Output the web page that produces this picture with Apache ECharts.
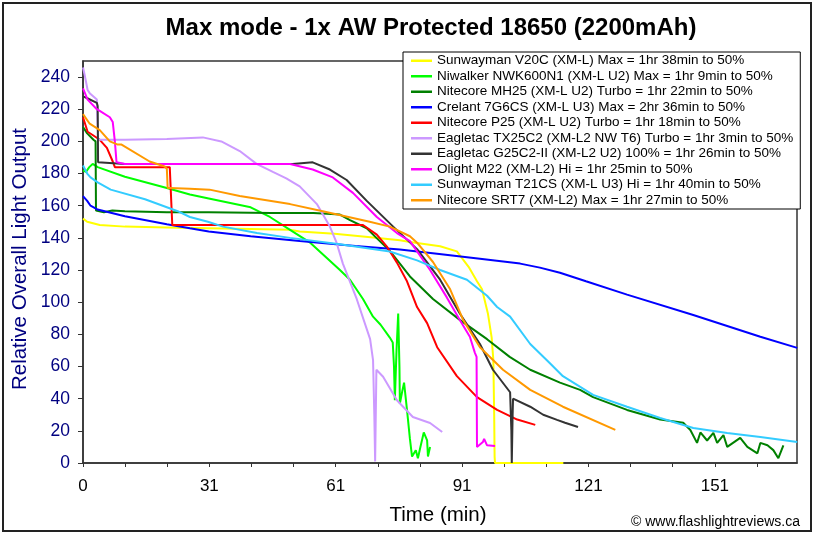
<!DOCTYPE html>
<html><head><meta charset="utf-8">
<script src="https://cdn.jsdelivr.net/npm/echarts@6/dist/echarts.min.js"></script>
<style>html,body{margin:0;padding:0;background:#fff}#c{width:817px;height:535px}</style>
</head><body><div id="c"></div>
<script>
// ---- data (x = minutes, y = relative overall light output) ----
const seriesNames = [
  'Sunwayman V20C (XM-L) Max = 1hr 38min to 50%',
  'Niwalker NWK600N1 (XM-L U2) Max = 1hr 9min to 50%',
  'Nitecore MH25 (XM-L U2) Turbo = 1hr 22min to 50%',
  'Crelant 7G6CS (XM-L U3) Max = 2hr 36min to 50%',
  'Nitecore P25 (XM-L U2) Turbo = 1hr 18min to 50%',
  'Eagletac TX25C2 (XM-L2 NW T6) Turbo = 1hr 3min to 50%',
  'Eagletac G25C2-II (XM-L2 U2) 100% = 1hr 26min to 50%',
  'Olight M22 (XM-L2) Hi = 1hr 25min to 50%',
  'Sunwayman T21CS (XM-L U3) Hi = 1hr 40min to 50%',
  'Nitecore SRT7 (XM-L2) Max = 1hr 27min to 50%'
];
const sunwaymanV20C = [[0,152],[1,150],[4,148],[10,147],[20,146.5],[29.8,146],[40,145.5],[49.3,145],[51.7,144],[60,142.5],[68,140.5],[75.6,138.5],[78,137.5],[85.2,134.8],[89.2,131.6],[92,122],[94,113],[95.2,108],[96.6,93],[97.5,78],[97.9,64],[98.1,30],[98.2,4],[98.3,0],[114.6,0]];
const niwalkerNWK600N1 = [[0,182],[0.7,181],[1.5,184],[2.3,186],[3.5,184],[10,178],[20,171],[25.5,167],[30,164.5],[40,159],[44.6,153],[49.4,145],[54.2,137],[61.3,120],[63.7,114],[66.8,102],[69.2,91],[71,86],[73.2,78],[73.9,75],[74.2,60],[74.4,39],[74.8,70],[75.2,93],[75.5,60],[75.6,37],[76.2,45],[76.6,50],[77.3,33],[78,15],[78.5,4],[79.4,8],[79.9,3],[80.5,10],[81.3,19],[82.1,14],[82.3,4],[82.8,10]];
const nitecoreMH25 = [[0,209],[1,205],[2.5,201],[3,200],[3.1,157],[5,156],[7,157],[10,156.5],[20,156],[30,156],[45,155.5],[55,155.5],[61.3,154.5],[63.7,151],[67.7,146],[70,140],[73.2,132],[78,116],[83.5,102],[89.9,89],[96.4,77],[101.8,66],[106.7,58],[113.8,50],[118.6,45.5],[121.7,41],[129.8,33],[137.7,27],[143.2,25],[144.9,20.5],[146.5,12.5],[147.3,19],[148.9,14],[150.4,18.7],[151.3,12.5],[152.8,17.4],[153.7,10],[156.8,15.6],[158.5,10],[160.9,6],[161.6,12.5],[163.3,11],[164.7,8],[165.9,3],[167.1,11]];
const crelant7G6CS = [[0,166],[1,163],[1.8,160],[3.5,157.6],[10,153.5],[20,148.5],[25.5,146],[30,144],[40,141],[51.7,138],[65,135],[75.6,132.7],[85,130],[94.7,127],[104.3,124],[109,121.5],[113.8,118.3],[120,113],[129.8,104.7],[145.6,92],[161.6,78.5],[170.4,71.6]];
const nitecoreP25 = [[0,215],[1.1,206],[2.3,204],[4,201],[5.7,196],[7.1,187.5],[7.6,184],[10,184],[20.7,184],[21.1,184],[21.3,148],[30,148],[45,148],[60,148],[66.8,148],[70.1,142],[72.5,134.6],[74.9,124.6],[77.3,113],[79.7,97],[82.1,87],[84.5,72],[89.2,54],[94,41],[98.8,33],[103.6,27],[107.9,23.7]];
const eagletacTX25C2 = [[0,246],[0.5,240],[1.1,232],[1.6,230],[3.3,226],[3.5,225],[3.6,201],[10,201],[20,201.5],[28.6,202.5],[33,200],[37.4,194],[41.4,186],[45.3,181],[48.5,177],[51.7,172],[55.8,161],[58.9,147],[60.5,137],[62,124],[65.3,102],[68.5,77],[69.2,64],[69.5,30],[69.7,1],[70,58],[70.3,59],[71.6,53.6],[74.9,39],[78.7,28.6],[82.8,24.9],[85.7,19.3]];
const eagletacG25C2 = [[0,228],[0.9,227],[3.3,224],[3.5,222],[3.6,187],[10,186],[20,186],[30,186],[40,186],[50,186],[54.8,187],[58.9,182.5],[62.9,176],[67.7,163],[74,147],[79.7,133],[85.2,114],[89.9,93],[94.7,74],[97.8,58],[101.9,44],[102.2,20],[102.3,0],[102.5,30],[102.6,40],[106.7,35],[109.8,30],[113.1,26.8],[115,25],[118.1,22.4]];
const olightM22 = [[0,233],[1.1,226],[3.3,220],[4,219],[6.4,215],[7.1,212],[7.6,200],[8,187],[10,186],[20,186],[30,186],[40,186],[49.4,186],[54.8,182.5],[59.6,177.6],[64.4,168],[70.1,153],[74.9,143],[78,138],[82.8,120],[86.8,103],[89.9,89],[92.3,78.5],[93.5,68.5],[93.9,66],[94,10],[95.4,13],[95.7,15],[96.4,11],[98.3,10.6]];
const sunwaymanT21CS = [[0,185],[1,180],[1.8,177.6],[3.5,174.5],[6.6,170],[14.8,164],[22.6,156.6],[25.5,153],[29.8,150],[33.4,147],[41.5,143],[49.4,140],[61.3,136],[73.2,131.5],[79.7,126],[85.2,120],[91.6,114],[96.4,104],[98.8,97],[101.9,91],[106.7,74],[111.4,62],[114.5,54],[121.7,42.4],[129.8,35],[137.7,28],[145.6,21.8],[153.7,18.7],[161.6,16.2],[170.4,13]];
const nitecoreSRT7 = [[0,217],[1.6,211],[4,207],[6.4,200],[8.3,198],[9.2,198],[15.9,187.5],[19.5,184.4],[20,183],[20.2,171],[20.7,171],[25.5,170.5],[30.2,170],[37.4,166],[49.4,161],[57.2,156.5],[68.4,150],[73.2,147],[78,141],[79.7,137],[83.5,125],[87.6,108],[90.7,89],[94.7,72],[100.2,58],[106.7,45.5],[114.5,35],[127,20.6]];
const xTickLabels = ['0','31','61','91','121','151'];
const yTickValues = [0,20,40,60,80,100,120,140,160,180,200,220,240];

// ---- chart ----
const seriesData = [sunwaymanV20C, niwalkerNWK600N1, nitecoreMH25, crelant7G6CS, nitecoreP25,
  eagletacTX25C2, eagletacG25C2, olightM22, sunwaymanT21CS, nitecoreSRT7];
const colors = ['#ffff00','#00ff00','#008000','#0000ff','#ff0000','#cc99ff','#333333','#ff00ff','#33ccff','#ff9900'];
const STEP = 10.05; // minutes per minor x tick
const FONT = '"Liberation Sans", Arial, sans-serif';
const xTicks = []; for (let k = 0; k <= 16; k++) xTicks.push(k * STEP);
const xLabelVals = xTickLabels.map((_, i) => i * 3 * STEP);

const chart = echarts.init(document.getElementById('c'), null, {renderer: 'canvas'});
chart.setOption({
  animation: false,
  backgroundColor: '#ffffff',
  color: colors,
  textStyle: {fontFamily: FONT},
  grid: {left: 83, right: 20, top: 61, bottom: 72, show: true, borderColor: '#333', borderWidth: 1.5, backgroundColor: '#fff'},
  xAxis: {
    type: 'value', min: 0, max: 16.95 * STEP,
    axisLine: {show: true, onZero: false, lineStyle: {color: '#333', width: 1.5}},
    axisTick: {show: true, length: 4, lineStyle: {color: '#333'}, customValues: xTicks},
    axisLabel: {customValues: xLabelVals, margin: 15, color: '#000', fontSize: 17, fontFamily: FONT,
      formatter: v => xTickLabels[Math.round(v / (3 * STEP))] ?? ''},
    splitLine: {show: false}
  },
  yAxis: {
    type: 'value', min: 0, max: 250,
    axisLine: {show: true, lineStyle: {color: '#333', width: 1.5}},
    axisTick: {show: true, length: 5, lineStyle: {color: '#333'}, customValues: yTickValues},
    axisLabel: {customValues: yTickValues, margin: 13, color: '#000080', fontSize: 17.5, fontFamily: FONT},
    splitLine: {show: false}
  },
  legend: {
    orient: 'vertical', left: 403, top: 52,
    data: seriesNames,
    icon: 'rect', itemWidth: 21, itemHeight: 2.5, itemGap: 0,
    padding: [1, 7, 1, 8],
    backgroundColor: '#fff', borderColor: '#000', borderWidth: 1,
    textStyle: {fontSize: 13.5, lineHeight: 15.5, color: '#000', fontFamily: FONT, padding: [0,0,0,0]}
  },
  series: seriesNames.map((n, i) => ({
    name: n, type: 'line', data: seriesData[i], showSymbol: false, symbol: 'none',
    lineStyle: {width: 2, color: colors[i]}, itemStyle: {color: colors[i]}, z: 2 + i
  })),
  graphic: [
    {type: 'rect', shape: {x: 3, y: 3, width: 808, height: 528}, style: {fill: 'none', stroke: '#222', lineWidth: 2}, silent: true, z: 100},
    {type: 'text', x: 431, y: 28, style: {text: 'Max mode - 1x AW Protected 18650 (2200mAh)', font: 'bold 24px ' + FONT, fill: '#000', align: 'center', verticalAlign: 'middle'}},
    {type: 'text', x: 20, y: 259, rotation: Math.PI / 2, style: {text: 'Relative Overall Light Output', font: '20.5px ' + FONT, fill: '#000080', align: 'center', verticalAlign: 'middle'}},
    {type: 'text', x: 438, y: 515, style: {text: 'Time (min)', font: '20.5px ' + FONT, fill: '#000', align: 'center', verticalAlign: 'middle'}},
    {type: 'text', x: 800, y: 522, style: {text: '© www.flashlightreviews.ca', font: '14px ' + FONT, fill: '#000', align: 'right', verticalAlign: 'middle'}}
  ]
});
</script></body></html>
